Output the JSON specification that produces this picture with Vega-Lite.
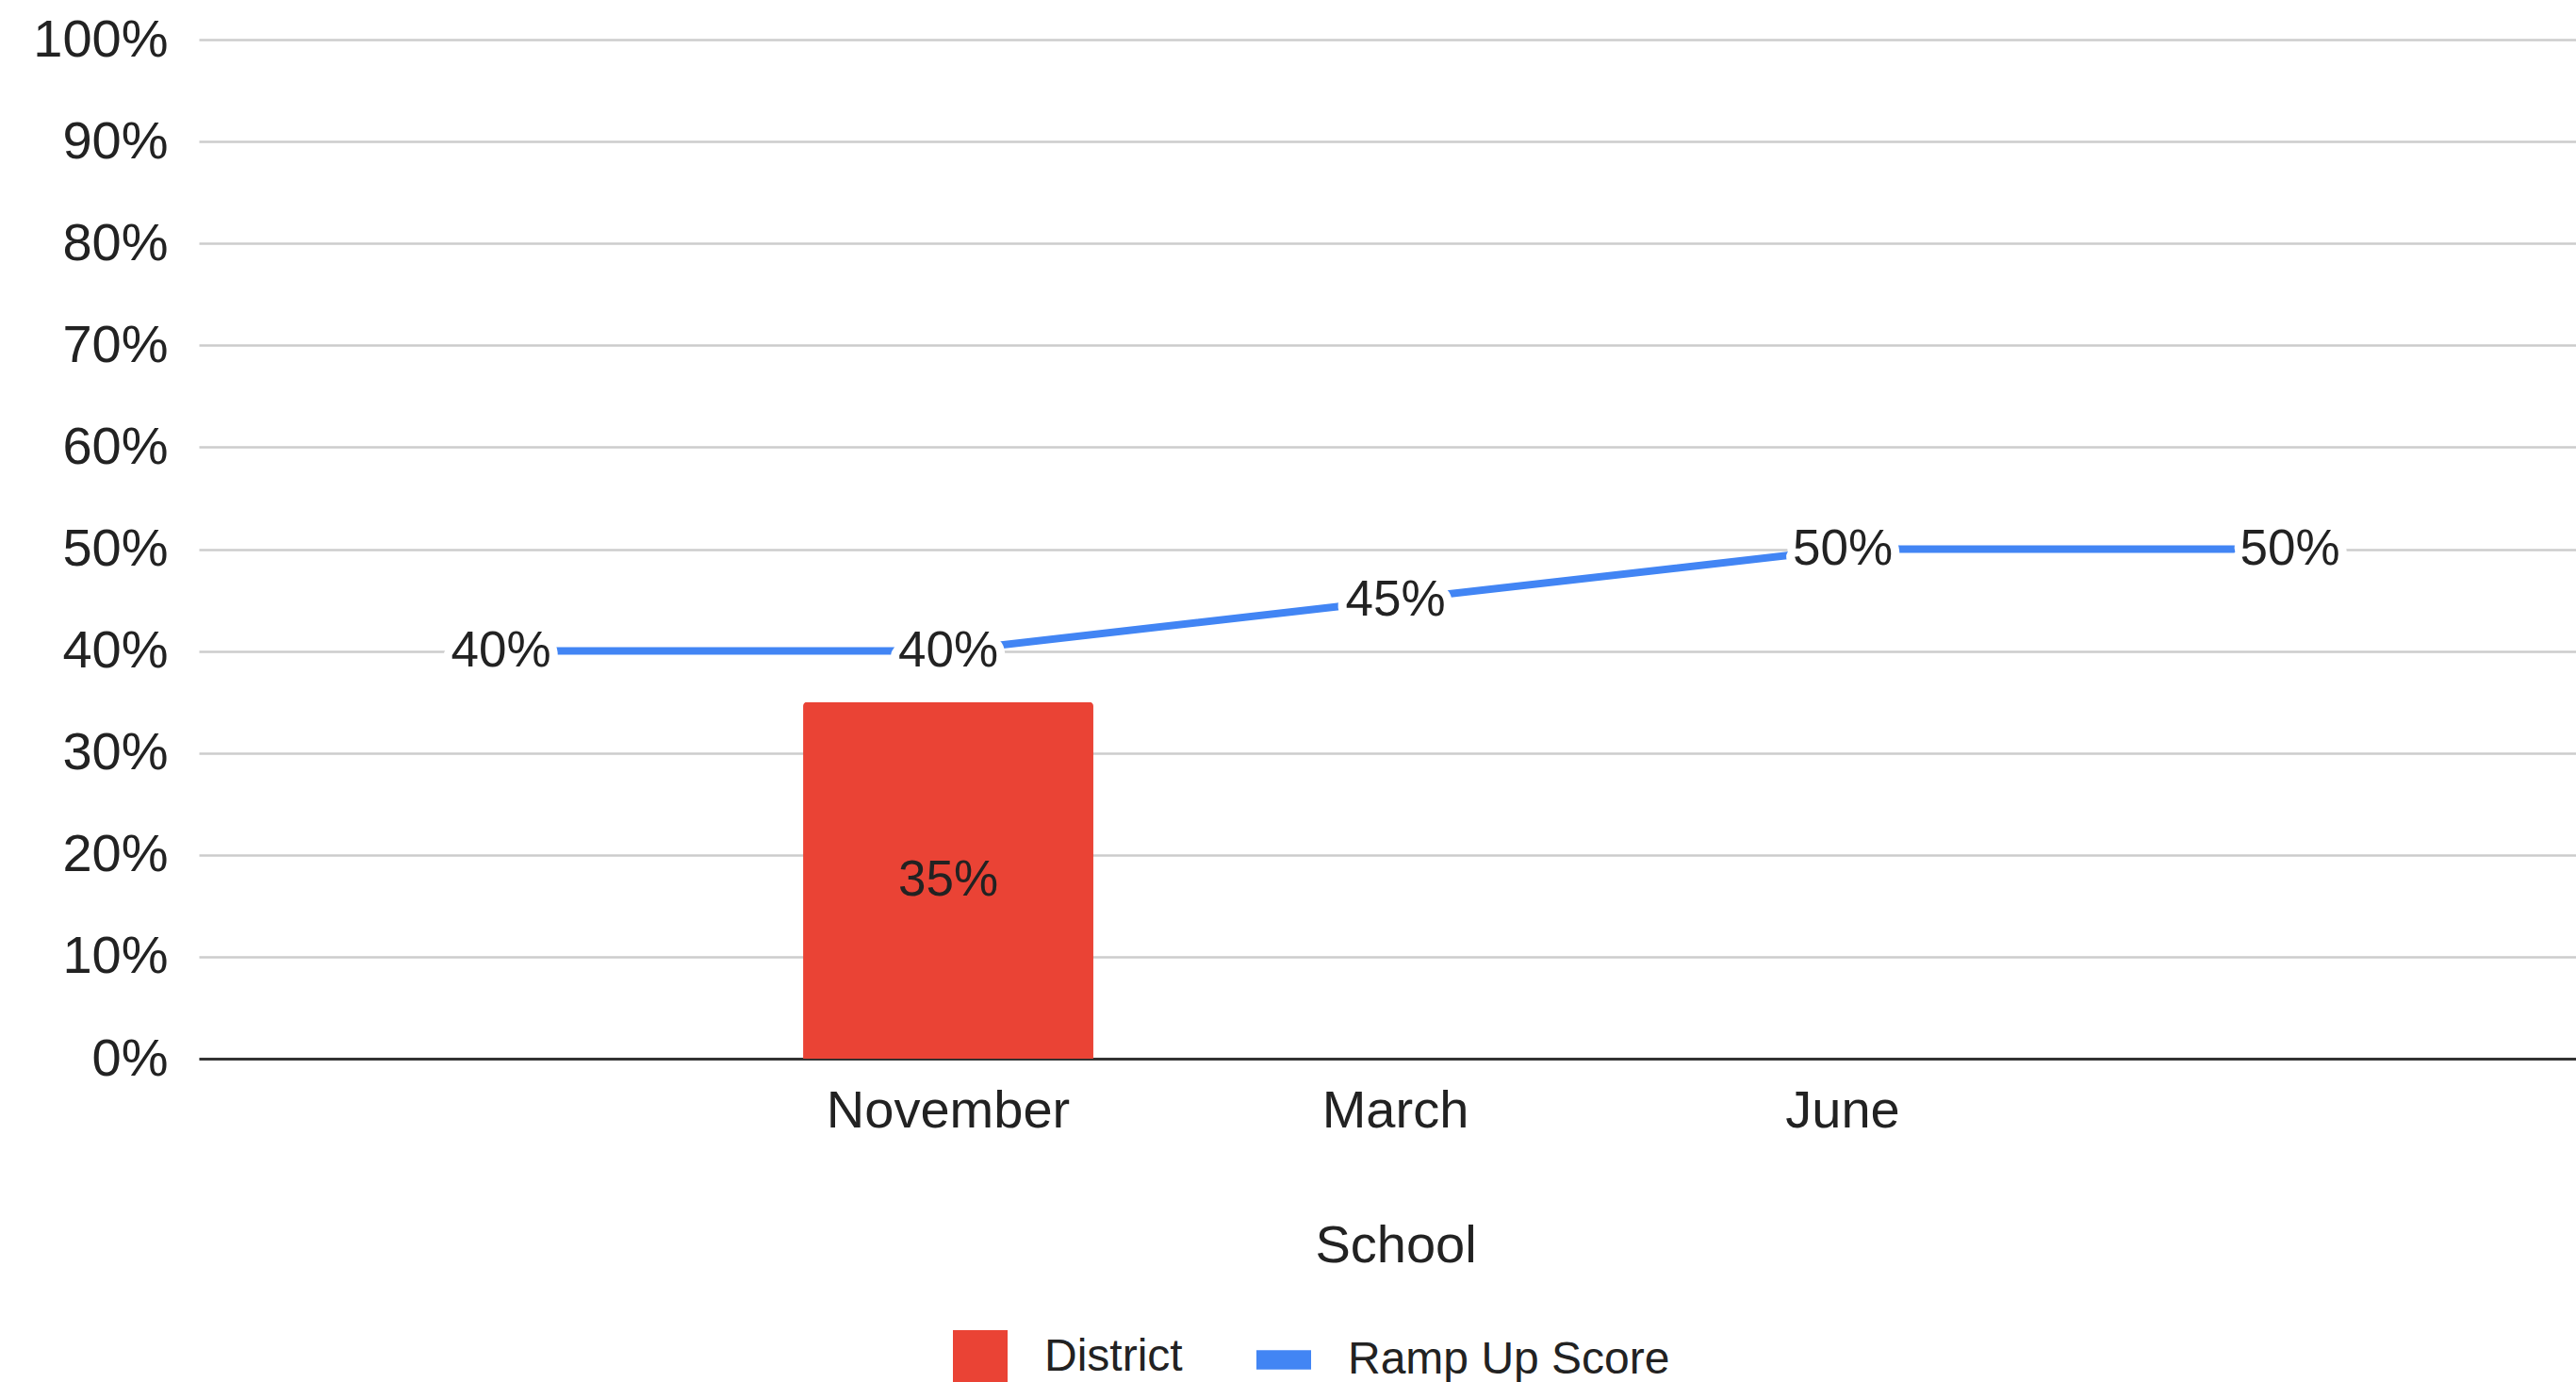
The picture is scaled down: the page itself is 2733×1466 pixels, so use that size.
{
  "$schema": "https://vega.github.io/schema/vega-lite/v6.json",
  "autosize": "none",
  "width": 2522,
  "height": 1081,
  "padding": {"left": 211, "top": 42, "right": 0, "bottom": 343},
  "background": "white",
  "config": {"font": "Liberation Sans", "view": {"stroke": null}},
  "data": {
    "values": [
      {"month": "", "series": "Ramp Up Score", "value": 0.40},
      {"month": "November", "series": "Ramp Up Score", "value": 0.40},
      {"month": "March", "series": "Ramp Up Score", "value": 0.45},
      {"month": "June", "series": "Ramp Up Score", "value": 0.50},
      {"month": " ", "series": "Ramp Up Score", "value": 0.50},
      {"month": "November", "series": "District", "value": 0.35}
    ]
  },
  "encoding": {
    "x": {
      "field": "month",
      "type": "nominal",
      "sort": null,
      "scale": {"domain": ["", "November", "March", "June", " "], "range": [0, 2539], "paddingInner": 0.351, "paddingOuter": 0.351},
      "axis": {
        "title": "School",
        "titleFontSize": 56,
        "titleFontWeight": "normal",
        "titleColor": "#222222",
        "labelFontSize": 56,
        "labelColor": "#222222",
        "labelAngle": 0,
        "labelLimit": 0,
        "ticks": false,
        "tickSize": 0,
        "labelPadding": 28,
        "titlePadding": 88,
        "domainColor": "#333333",
        "domainWidth": 3,
        "grid": false
      }
    },
    "y": {
      "field": "value",
      "type": "quantitative",
      "scale": {"domain": [0, 1]},
      "axis": {
        "values": [0, 0.1, 0.2, 0.3, 0.4, 0.5, 0.6, 0.7, 0.8, 0.9, 1],
        "format": ".0%",
        "labelFontSize": 56,
        "labelColor": "#222222",
        "labelPadding": 33,
        "ticks": false,
        "tickSize": 0,
        "domain": false,
        "gridColor": "#cccccc",
        "gridWidth": 2.5,
        "title": null
      }
    }
  },
  "layer": [
    {
      "transform": [{"filter": "datum.series === 'District'"}],
      "mark": {"type": "bar", "cornerRadiusTopLeft": 4, "cornerRadiusTopRight": 4},
      "encoding": {
        "color": {
          "field": "series",
          "type": "nominal",
          "scale": {"domain": ["District", "Ramp Up Score"], "range": ["#EA4335", "#4285F4"]},
          "legend": {
            "orient": "none",
            "legendX": 800,
            "legendY": 1369,
            "direction": "horizontal",
            "title": null,
            "labelFontSize": 48,
            "labelColor": "#222222",
            "labelLimit": 0,
            "symbolSize": 3364,
            "labelOffset": 39,
            "columnPadding": 78,
            "symbolStrokeWidth": 0,
            "symbolOpacity": 1,
            "encode": {
              "symbols": {
                "update": {
                  "shape": {"signal": "datum.value === 'District' ? 'square' : 'M-1,-0.35L1,-0.35L1,0.35L-1,0.35Z'"},
                  "fill": {"signal": "datum.value === 'District' ? '#EA4335' : '#4285F4'"},
                  "strokeWidth": {"value": 0},
                  "opacity": {"value": 1}
                }
              }
            }
          }
        }
      }
    },
    {
      "transform": [{"filter": "datum.series === 'Ramp Up Score'"}],
      "mark": {"type": "line", "strokeWidth": 8},
      "encoding": {
        "color": {"field": "series", "type": "nominal"}
      }
    },
    {
      "transform": [{"filter": "datum.series === 'Ramp Up Score'"}],
      "mark": {"type": "text", "fontSize": 53, "align": "center", "baseline": "middle", "fill": "white", "stroke": "white", "strokeWidth": 18, "strokeJoin": "round"},
      "encoding": {"text": {"field": "value", "type": "quantitative", "format": ".0%"}}
    },
    {
      "transform": [{"filter": "datum.series === 'Ramp Up Score'"}],
      "mark": {"type": "text", "fontSize": 53, "align": "center", "baseline": "middle", "fill": "#222222"},
      "encoding": {"text": {"field": "value", "type": "quantitative", "format": ".0%"}}
    },
    {
      "transform": [{"filter": "datum.series === 'District'"}],
      "mark": {"type": "text", "fontSize": 53, "align": "center", "baseline": "middle", "fill": "#222222", "dy": 189},
      "encoding": {"text": {"field": "value", "type": "quantitative", "format": ".0%"}}
    }
  ]
}
